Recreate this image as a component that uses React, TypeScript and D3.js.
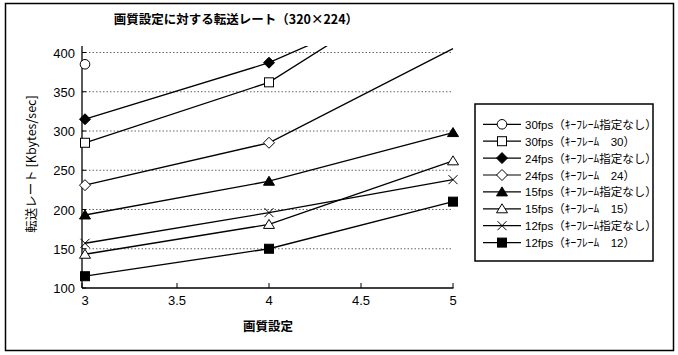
import React from "react";
import * as d3 from "d3";

const xValues = [3, 4, 5];
const xTicks = [3, 3.5, 4, 4.5, 5];
const yTicks = [100, 150, 200, 250, 300, 350, 400];

const seriesNames = [
  "30fps（ｷｰﾌﾚｰﾑ指定なし）",
  "30fps（ｷｰﾌﾚｰﾑ　30）",
  "24fps（ｷｰﾌﾚｰﾑ指定なし）",
  "24fps（ｷｰﾌﾚｰﾑ　24）",
  "15fps（ｷｰﾌﾚｰﾑ指定なし）",
  "15fps（ｷｰﾌﾚｰﾑ　15）",
  "12fps（ｷｰﾌﾚｰﾑ指定なし）",
  "12fps（ｷｰﾌﾚｰﾑ　12）",
];
const s30none: (number | null)[] = [385, null, null];
const s30kf: (number | null)[] = [285, 362, 510];
const s24none: (number | null)[] = [315, 387, 490];
const s24kf: (number | null)[] = [231, 285, 405];
const s15none: (number | null)[] = [193, 236, 298];
const s15kf: (number | null)[] = [143, 181, 262];
const s12none: (number | null)[] = [157, 196, 238];
const s12kf: (number | null)[] = [115, 150, 210];
const seriesValues = [s30none, s30kf, s24none, s24kf, s15none, s15kf, s12none, s12kf];
const markerTypes = ["circleOpen", "squareOpen", "diamondFill", "diamondOpen", "triFill", "triOpen", "cross", "squareFill"];

const title = "画質設定に対する転送レート（320×224）";
const xTitle = "画質設定";
const yTitle = "転送レート [Kbytes/sec]";

const FONT = "'Liberation Sans', Arial, 'Noto Sans CJK JP', sans-serif";
const JFONT = "'Noto Sans CJK JP', sans-serif";

const x = d3.scaleLinear().domain([3, 5]).range([85, 453]);
const y = d3.scaleLinear().domain([100, 400]).range([288, 52.5]);
const clipTop = 46;

function Marker({ type, cx, cy }: { type: string; cx: number; cy: number }) {
  const st = { stroke: "#000", strokeWidth: 1 };
  switch (type) {
    case "circleOpen":
      return <circle cx={cx} cy={cy} r={4.8} fill="#fff" {...st} />;
    case "squareOpen":
      return <rect x={cx - 4.5} y={cy - 4.5} width={9} height={9} fill="#fff" {...st} />;
    case "squareFill":
      return <rect x={cx - 4.5} y={cy - 4.5} width={9} height={9} fill="#000" {...st} />;
    case "diamondFill":
      return <path d={`M${cx},${cy - 5.5}L${cx + 5.5},${cy}L${cx},${cy + 5.5}L${cx - 5.5},${cy}Z`} fill="#000" {...st} />;
    case "diamondOpen":
      return <path d={`M${cx},${cy - 5.5}L${cx + 5.5},${cy}L${cx},${cy + 5.5}L${cx - 5.5},${cy}Z`} fill="#fff" {...st} />;
    case "triFill":
      return <path d={`M${cx},${cy - 5}L${cx + 5.5},${cy + 4}L${cx - 5.5},${cy + 4}Z`} fill="#000" {...st} />;
    case "triOpen":
      return <path d={`M${cx},${cy - 5}L${cx + 5.5},${cy + 4}L${cx - 5.5},${cy + 4}Z`} fill="#fff" {...st} />;
    case "cross":
      return <path d={`M${cx - 4.5},${cy - 4.5}L${cx + 4.5},${cy + 4.5}M${cx + 4.5},${cy - 4.5}L${cx - 4.5},${cy + 4.5}`} fill="none" {...st} />;
  }
  return null;
}

export default function App() {
  const line = d3
    .line<number | null>()
    .defined((d) => d !== null)
    .x((_, i) => x(xValues[i]))
    .y((d) => y(d as number));

  const legendX = 475;
  const legendY = 104;
  const legendRow0 = 124.3;
  const legendStep = 16.9;

  return (
    <svg width={678} height={355} style={{ position: "absolute", left: 0, top: 0, background: "#fff" }}>
      <rect x={0} y={0} width={678} height={355} fill="#fff" />
      <rect x={5.5} y={3.5} width={668} height={347} fill="none" stroke="#000" strokeWidth={1.5} />
      <defs>
        <clipPath id="plotclip">
          <rect x={70} y={clipTop} width={400} height={300} />
        </clipPath>
      </defs>
      <text x={236} y={24} textAnchor="middle" fontFamily={JFONT} fontSize={12.5} fontWeight={700}>
        {title}
      </text>

      {yTicks.filter((t) => t > 100).map((t) => (
        <line key={t} x1={82} x2={453} y1={y(t)} y2={y(t)} stroke="#666" strokeWidth={1} strokeDasharray="1.5,2" />
      ))}

      <line x1={82} x2={82} y1={46} y2={288} stroke="#000" strokeWidth={1.3} />
      <line x1={82} x2={453.5} y1={288} y2={288} stroke="#000" strokeWidth={1.3} />
      {xTicks.map((t) => (
        <line key={t} x1={t === 3 ? 82 : x(t)} x2={t === 3 ? 82 : x(t)} y1={288} y2={283} stroke="#000" strokeWidth={1} />
      ))}
      {yTicks.map((t) => (
        <line key={t} x1={82} x2={86} y1={y(t)} y2={y(t)} stroke="#000" strokeWidth={1} />
      ))}
      {yTicks.map((t) => (
        <text key={t} x={75} y={y(t) + 5} textAnchor="end" fontFamily={FONT} fontSize={13}>
          {t}
        </text>
      ))}
      {xTicks.map((t) => (
        <text key={t} x={x(t)} y={305} textAnchor="middle" fontFamily={FONT} fontSize={13}>
          {t}
        </text>
      ))}
      <text x={268} y={331} textAnchor="middle" fontFamily={JFONT} fontSize={12.5} fontWeight={700}>
        {xTitle}
      </text>
      <text
        transform={`translate(36,164) rotate(-90)`}
        textAnchor="middle"
        fontFamily={JFONT}
        fontSize={12.5}
      >
        {yTitle}
      </text>

      <g clipPath="url(#plotclip)">
        {seriesValues.map((vals, i) => (
          <path key={i} d={line(vals) || ""} fill="none" stroke="#000" strokeWidth={1.3} />
        ))}
      </g>
      {seriesValues.map((vals, i) =>
        vals.map((v, j) =>
          v !== null && v <= 400 ? <Marker key={`${i}-${j}`} type={markerTypes[i]} cx={x(xValues[j])} cy={y(v)} /> : null
        )
      )}

      <rect x={legendX} y={legendY} width={178} height={157} fill="#fff" stroke="#000" strokeWidth={1.5} />
      {seriesNames.map((name, i) => {
        const cy = legendRow0 + i * legendStep;
        return (
          <g key={name}>
            <line x1={483} x2={521} y1={cy} y2={cy} stroke="#000" strokeWidth={1.2} />
            <Marker type={markerTypes[i]} cx={502} cy={cy} />
            <text x={525} y={cy + 4.5} fontFamily={FONT} fontSize={11.5}>
              {name}
            </text>
          </g>
        );
      })}
    </svg>
  );
}
